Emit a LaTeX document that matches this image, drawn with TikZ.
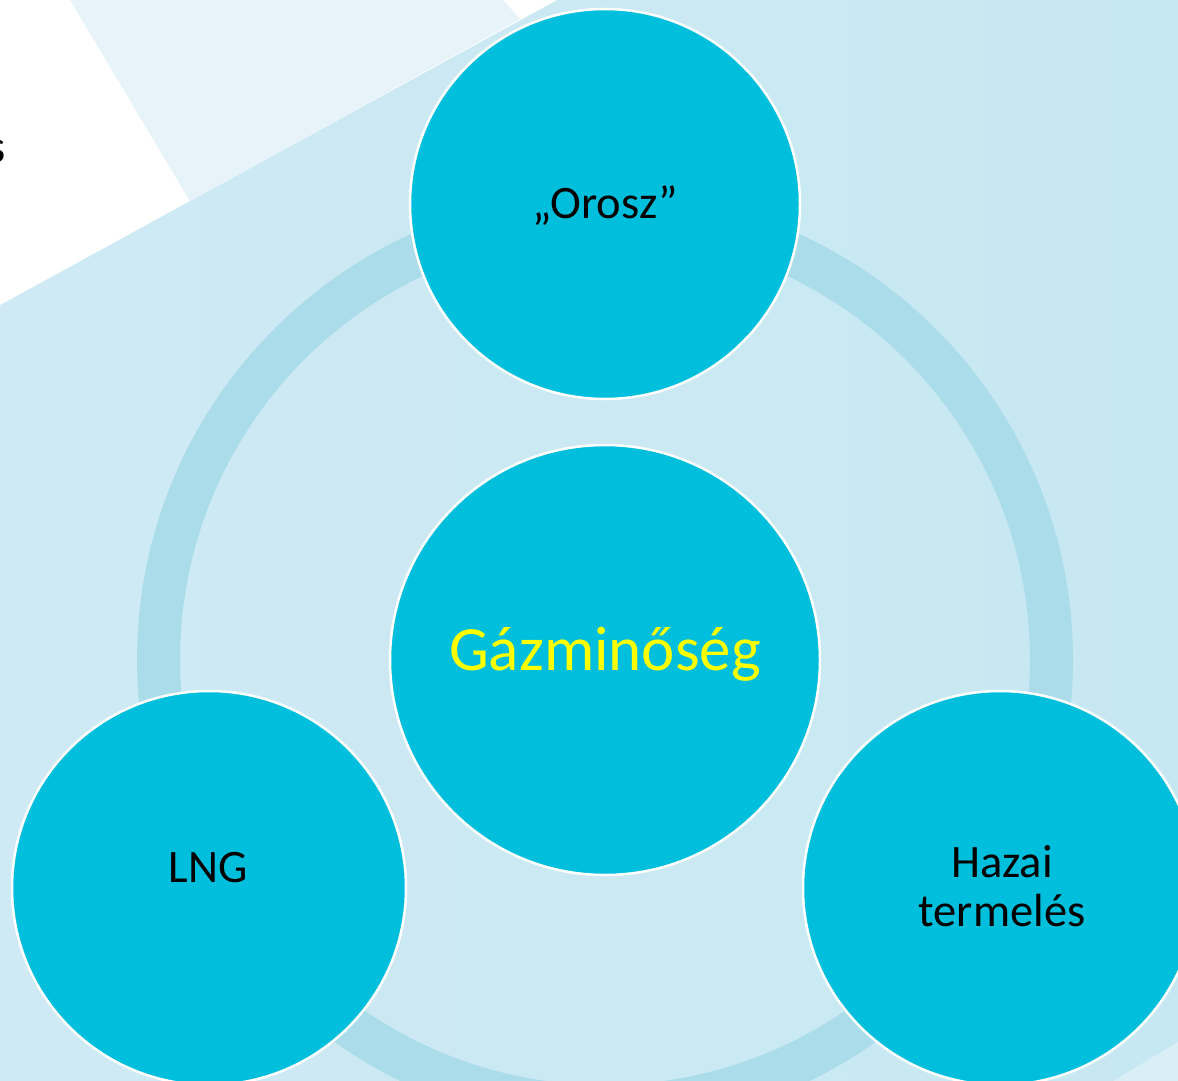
\documentclass[tikz,border=0pt]{standalone}
\usepackage{fontspec}
\setmainfont{Carlito}
\definecolor{bgL}{HTML}{CFEAF4}
\definecolor{bgR}{HTML}{C6E8F2}
\definecolor{paleband}{HTML}{E6F3F9}
\definecolor{palecorner}{HTML}{D9EFF7}
\definecolor{ringc}{HTML}{ABDCEA}
\definecolor{bubble}{HTML}{00BFDD}
\definecolor{gasyellow}{HTML}{FFFF00}
\begin{document}
\begin{tikzpicture}[x=1pt,y=-1pt,
  bubblenode/.style={circle, fill=bubble, draw=white, line width=2.5pt, inner sep=0pt, minimum size=#1},
  smalltext/.style={font=\fontsize{46.5}{49}\selectfont, text=black, inner sep=0pt, align=center},
  bigtext/.style={font=\fontsize{63}{70}\selectfont, text=gasyellow, inner sep=0pt}]
\useasboundingbox (0,0) rectangle (1178,1081);
% background
\shade[left color=bgL, right color=bgR] (0,0) rectangle (1178,1081);
\fill[white] (0,0) -- (557,0) -- (0,305) -- cycle;
\fill[paleband] (70,0) -- (503,0) -- (520,19) -- (190,201) -- cycle;
\fill[palecorner] (1113,1081) -- (1178,1042) -- (1178,1081) -- cycle;
% partial text at left edge
\begin{scope}
\clip (0,0) rectangle (1178,1081);
\node[smalltext, anchor=base east] (frag) at (6,162) {s};
\end{scope}
% ring
\draw[ringc, line width=43pt] (605,660) circle[radius=446.5];
% circles
\node[bubblenode=390pt] (top) at (605,204) {};
\node[bubblenode=430pt] (center) at (605,660) {};
\node[bubblenode=394pt] (left) at (209,888) {};
\node[bubblenode=394pt] (right) at (1000,888) {};
% labels
\node[smalltext, anchor=base] (toplbl) at (605,218) {„Orosz”};
\node[bigtext, anchor=base] (centerlbl) at (605,670) {Gázminőség};
\node[smalltext, anchor=base] (leftlbl) at (208,882) {LNG};
\node[smalltext, anchor=base] (rightlbl) at (1002,926) {Hazai\\termelés};
\end{tikzpicture}
\end{document}
